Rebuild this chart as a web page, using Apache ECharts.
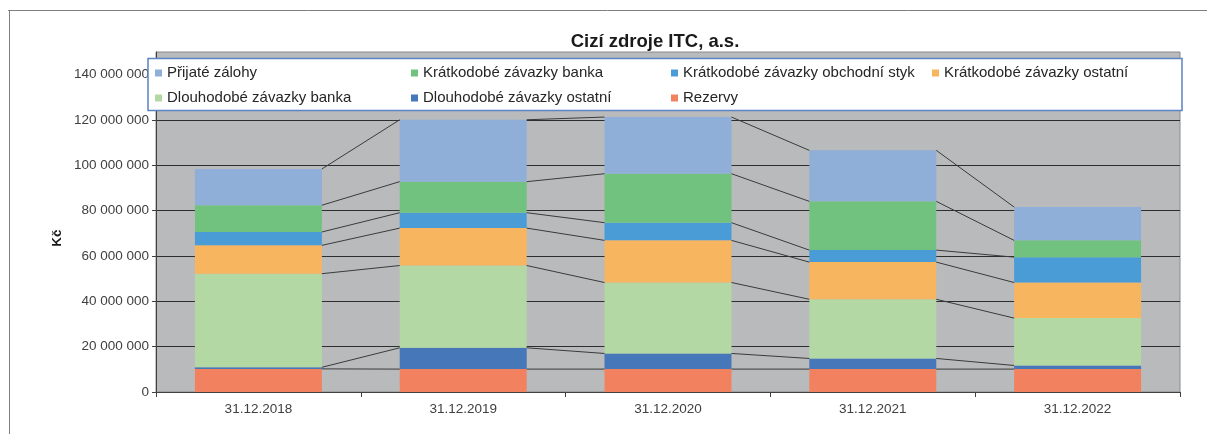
<!DOCTYPE html>
<html>
<head>
<meta charset="utf-8">
<script src="https://cdn.jsdelivr.net/npm/echarts@6/dist/echarts.min.js"></script>
<style>
html,body{margin:0;padding:0;background:#fff;}
#chart{width:1207px;height:434px;}
</style>
</head>
<body>
<div id="chart"></div>
<script>
// ---- data ----
var categories = ['31.12.2018', '31.12.2019', '31.12.2020', '31.12.2021', '31.12.2022'];
var rezervy = [10200000, 10100000, 10100000, 10100000, 10100000];
var dlouhodobeOstatni = [700000, 9400000, 6900000, 4700000, 1600000];
var dlouhodobeBanka = [41300000, 36300000, 31300000, 26100000, 20900000];
var kratkodobeOstatni = [12500000, 16500000, 18600000, 16400000, 15700000];
var kratkodobeObchodni = [5900000, 6800000, 7800000, 5300000, 11200000];
var kratkodobeBanka = [11800000, 13700000, 21600000, 21500000, 7400000];
var prijateZalohy = [16000000, 27300000, 25000000, 22500000, 14700000];
var yTicks = [0, 20000000, 40000000, 60000000, 80000000, 100000000, 120000000, 140000000];

var seriesNames = ['Rezervy', 'Dlouhodobé závazky ostatní', 'Dlouhodobé závazky banka',
  'Krátkodobé závazky ostatní', 'Krátkodobé závazky obchodní styk', 'Krátkodobé závazky banka', 'Přijaté zálohy'];
var seriesData = [rezervy, dlouhodobeOstatni, dlouhodobeBanka, kratkodobeOstatni, kratkodobeObchodni, kratkodobeBanka, prijateZalohy];
var colors = ['#f2825f', '#4677b9', '#b3d8a4', '#f8b55f', '#4a9cd6', '#71c27e', '#8faed8'];

var FONT = '"Liberation Sans", Arial, sans-serif';

function fmt(v) {
  return String(v).replace(/\B(?=(\d{3})+(?!\d))/g, ' ');
}

// cumulative tops for series lines
var lineData = [];
var cum = categories.map(function(){ return 0; });
seriesData.forEach(function(arr) {
  arr.forEach(function(v, i){ cum[i] += v; });
  for (var i = 0; i < categories.length - 1; i++) {
    lineData.push([i, cum[i], cum[i + 1]]);
  }
});

var BAR_RATIO = 0.62;

var series = seriesData.map(function(arr, k) {
  return {
    name: seriesNames[k],
    type: 'bar',
    stack: 'total',
    barWidth: (BAR_RATIO * 100) + '%',
    itemStyle: { color: colors[k] },
    data: arr,
    z: 3
  };
});

series.push({
  type: 'custom',
  name: 'seriesLines',
  coordinateSystem: 'cartesian2d',
  silent: true,
  z: 4,
  renderItem: function(params, api) {
    var i = api.value(0);
    var p1 = api.coord([i, api.value(1)]);
    var p2 = api.coord([i + 1, api.value(2)]);
    var band = api.size([1, 0])[0];
    var half = band * BAR_RATIO / 2;
    return {
      type: 'line',
      shape: { x1: p1[0] + half, y1: p1[1], x2: p2[0] - half, y2: p2[1] },
      style: { stroke: '#3a3a3a', lineWidth: 1 }
    };
  },
  encode: { x: 0, y: [1, 2] },
  data: lineData
});

function legendCol(names, left) {
  return {
    orient: 'vertical',
    left: left,
    top: 65,
    padding: 0,
    itemGap: 9,
    itemWidth: 7,
    itemHeight: 7,
    icon: 'rect',
    z: 10,
    selectedMode: false,
    textStyle: { fontFamily: FONT, fontSize: 15, color: '#262626', lineHeight: 16 },
    data: names
  };
}

var chart = echarts.init(document.getElementById('chart'), null, { renderer: 'canvas' });
chart.setOption({
  animation: false,
  backgroundColor: '#ffffff',
  color: colors,
  title: {
    text: 'Cizí zdroje ITC, a.s.',
    left: 650,
    textAlign: 'center',
    top: 27,
    textStyle: { fontFamily: FONT, fontSize: 18.5, fontWeight: 'bold', color: '#1a1a1a' }
  },
  legend: [
    legendCol(['Přijaté zálohy', 'Dlouhodobé závazky banka'], 155),
    legendCol(['Krátkodobé závazky banka', 'Dlouhodobé závazky ostatní'], 411),
    legendCol(['Krátkodobé závazky obchodní styk', 'Rezervy'], 671),
    legendCol(['Krátkodobé závazky ostatní'], 932)
  ],
  graphic: [
    { type: 'line', z: 100, shape: { x1: 8, y1: 10.5, x2: 1207, y2: 10.5 }, style: { stroke: '#7f7f7f', lineWidth: 1 } },
    { type: 'line', z: 100, shape: { x1: 9.5, y1: 10, x2: 9.5, y2: 434 }, style: { stroke: '#7f7f7f', lineWidth: 1 } },
    { type: 'rect', z: 5, shape: { x: 148, y: 58.5, width: 1034, height: 52 },
      style: { fill: '#ffffff', stroke: '#5b84c4', lineWidth: 1.5 } },
    { type: 'text', z: 100, x: 57, y: 238, rotation: Math.PI / 2,
      style: { text: 'Kč', fontFamily: FONT, fontSize: 13.5, fontWeight: 'bold', fill: '#1a1a1a', align: 'center', verticalAlign: 'middle' } }
  ],
  grid: {
    left: 156,
    right: 27,
    top: 52,
    bottom: 42,
    show: true,
    backgroundColor: '#b9babc',
    borderColor: '#8a8a8a',
    borderWidth: 1
  },
  xAxis: {
    type: 'category',
    data: categories,
    boundaryGap: true,
    axisLine: { lineStyle: { color: '#404040', width: 1 } },
    axisTick: { show: true, length: 5, lineStyle: { color: '#404040' } },
    axisLabel: { fontFamily: FONT, fontSize: 13.5, color: '#404040', margin: 10 },
    splitLine: { show: false }
  },
  yAxis: {
    type: 'value',
    min: 0,
    max: 150000000,
    interval: 20000000,
    axisLine: { show: true, lineStyle: { color: '#404040', width: 1 } },
    axisTick: { show: true, length: 4, lineStyle: { color: '#404040' }, customValues: yTicks },
    axisLabel: {
      fontFamily: FONT, fontSize: 13.5, color: '#404040', margin: 7,
      customValues: yTicks,
      formatter: function(v) { return yTicks.indexOf(v) >= 0 ? fmt(v) : ''; }
    },
    splitLine: { show: true, lineStyle: { color: '#2e2e2e', width: 1 } }
  },
  series: series
});
</script>
</body>
</html>
